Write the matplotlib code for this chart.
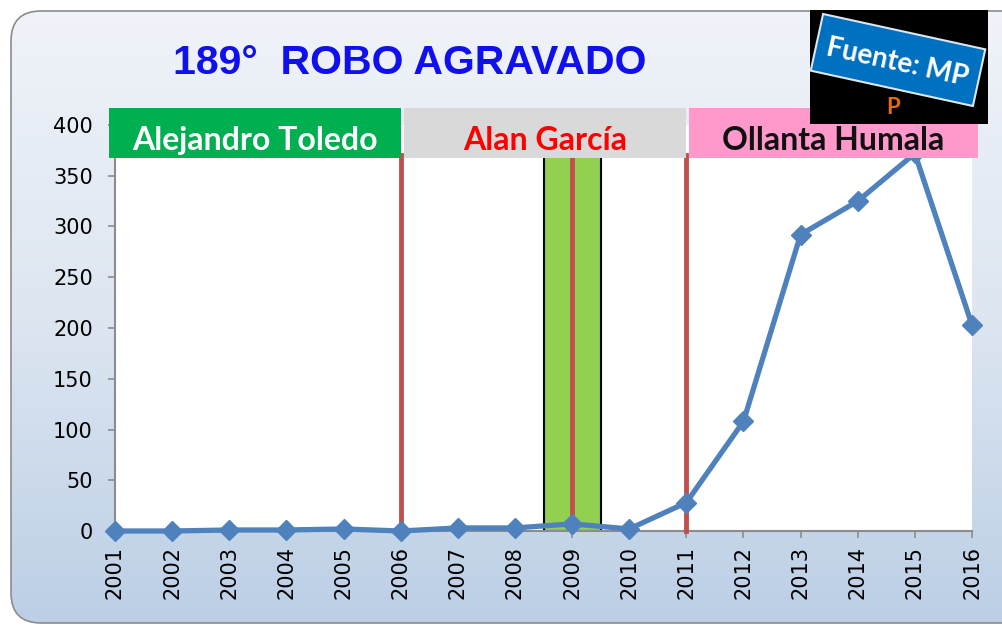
import numpy as np
import matplotlib
matplotlib.use("Agg")
import matplotlib.pyplot as plt
from matplotlib.patches import Rectangle, FancyBboxPatch
import matplotlib.transforms as mtransforms

years = list(range(2001, 2017))
robos = [0, 0, 1, 1, 2, 0, 3, 3, 7, 2, 28, 108, 292, 325, 372, 203]
yticks = [0, 50, 100, 150, 200, 250, 300, 350, 400]

periods = ["Alejandro Toledo", "Alan García", "Ollanta Humala"]
period_bg = ["#00b050", "#d9d9d9", "#ff99cc"]
period_fg = ["white", "#ff0000", "#111111"]
period_span = [(2000.9, 2006), (2006.05, 2011), (2011.05, 2016.1)]
mandate_lines = [2006, 2009, 2011]
crisis_band = (2008.5, 2009.5)

W, H = 1003, 627
fig = plt.figure(figsize=(W / 100, H / 100), dpi=100)
plt.rcParams['font.family'] = ['Lato', 'DejaVu Sans']


def fx(px):
    return px / W


def fy(py):
    return 1 - py / H


# background card with vertical gradient
bg = fig.add_axes([0, 0, 1, 1], zorder=0)
bg.set_xlim(0, W)
bg.set_ylim(H, 0)
bg.axis("off")
grad = np.linspace(0, 1, 256)[:, None]
cmap = matplotlib.colors.LinearSegmentedColormap.from_list(
    "g", ["#f0f3f9", "#dde6f1", "#bccfe6"])
card = FancyBboxPatch((11, 11), W + 30, H - 15, boxstyle="round,pad=0,rounding_size=30",
                      fc="none", ec="#8c8c8c", lw=1.2)
bg.add_patch(card)
im = bg.imshow(grad, extent=[11, W + 40, H - 4, 11], cmap=cmap, aspect="auto")
im.set_clip_path(card)

# main axes
x0, x1 = 115, 972
y0, y1 = 531, 125
ax = fig.add_axes([fx(x0), fy(y0), fx(x1 - x0), (y0 - y1) / H], zorder=2)
ax.set_facecolor("white")
ax.set_xlim(2001, 2016)
ax.set_ylim(0, 400)

ax.axvspan(*crisis_band, color="#92d050", ec="black", lw=1.5, zorder=2)
for xv in mandate_lines:
    ax.plot([xv, xv], [0, 370], color="#c0504d", lw=3.5, zorder=3, clip_on=False)
ax.plot(years, robos, color="#4f81bd", lw=3.8, marker="D", ms=10, zorder=4, clip_on=False)

ax.set_yticks(yticks)
ax.set_xticks(years)
ax.set_xticklabels([str(y) for y in years], rotation=90, fontsize=15, family="DejaVu Sans")
ax.set_yticklabels([str(v) for v in yticks], fontsize=15, family="DejaVu Sans")
for s in ["top", "right"]:
    ax.spines[s].set_visible(False)
for s in ["left", "bottom"]:
    ax.spines[s].set_color("#8c8c8c")
    ax.spines[s].set_linewidth(1.5)
ax.tick_params(axis="both", color="#8c8c8c", width=1.2, length=5, pad=6)
ax.tick_params(axis="y", pad=11)

# government banners
tr = mtransforms.blended_transform_factory(ax.transData, fig.transFigure)
for name, bgc, fgc, (a, b) in zip(periods, period_bg, period_fg, period_span):
    ax.add_patch(Rectangle((a, fy(158)), b - a, fy(108) - fy(158), transform=tr,
                           fc=bgc, ec="none", zorder=5, clip_on=False))
    ax.text((a + b) / 2, fy(141), name, transform=tr, ha="center", va="center",
            fontsize=23, fontweight="bold", color=fgc, zorder=6)

fig.text(fx(410), fy(63), "189°  ROBO AGRAVADO", ha="center", va="center",
         fontsize=29.5, fontweight="bold", color="#1010ee", zorder=7,
         family=["Liberation Sans", "DejaVu Sans"])

# source badge
ov = fig.add_axes([fx(810), fy(124), fx(178), (124 - 10) / H], zorder=9)
ov.set_xlim(0, 178)
ov.set_ylim(114, 0)
ov.axis("off")
ov.add_patch(Rectangle((0, 0), 178, 114, fc="black", ec="none"))
rot = mtransforms.Affine2D().rotate_deg_around(88, 50, 12.3) + ov.transData
ov.add_patch(Rectangle((5, 21), 166, 58, fc="#0070c0", ec="#dce6f2", lw=1.5, transform=rot))
ov.text(87, 53, "Fuente: MP", ha="center", va="center", rotation=-12.3, fontsize=20,
        fontweight="bold", color="white")
ov.text(83, 97, "P", ha="center", va="center", fontsize=16, fontweight="bold",
        color="#e46c0a")

fig.savefig("out.png", dpi=100)
